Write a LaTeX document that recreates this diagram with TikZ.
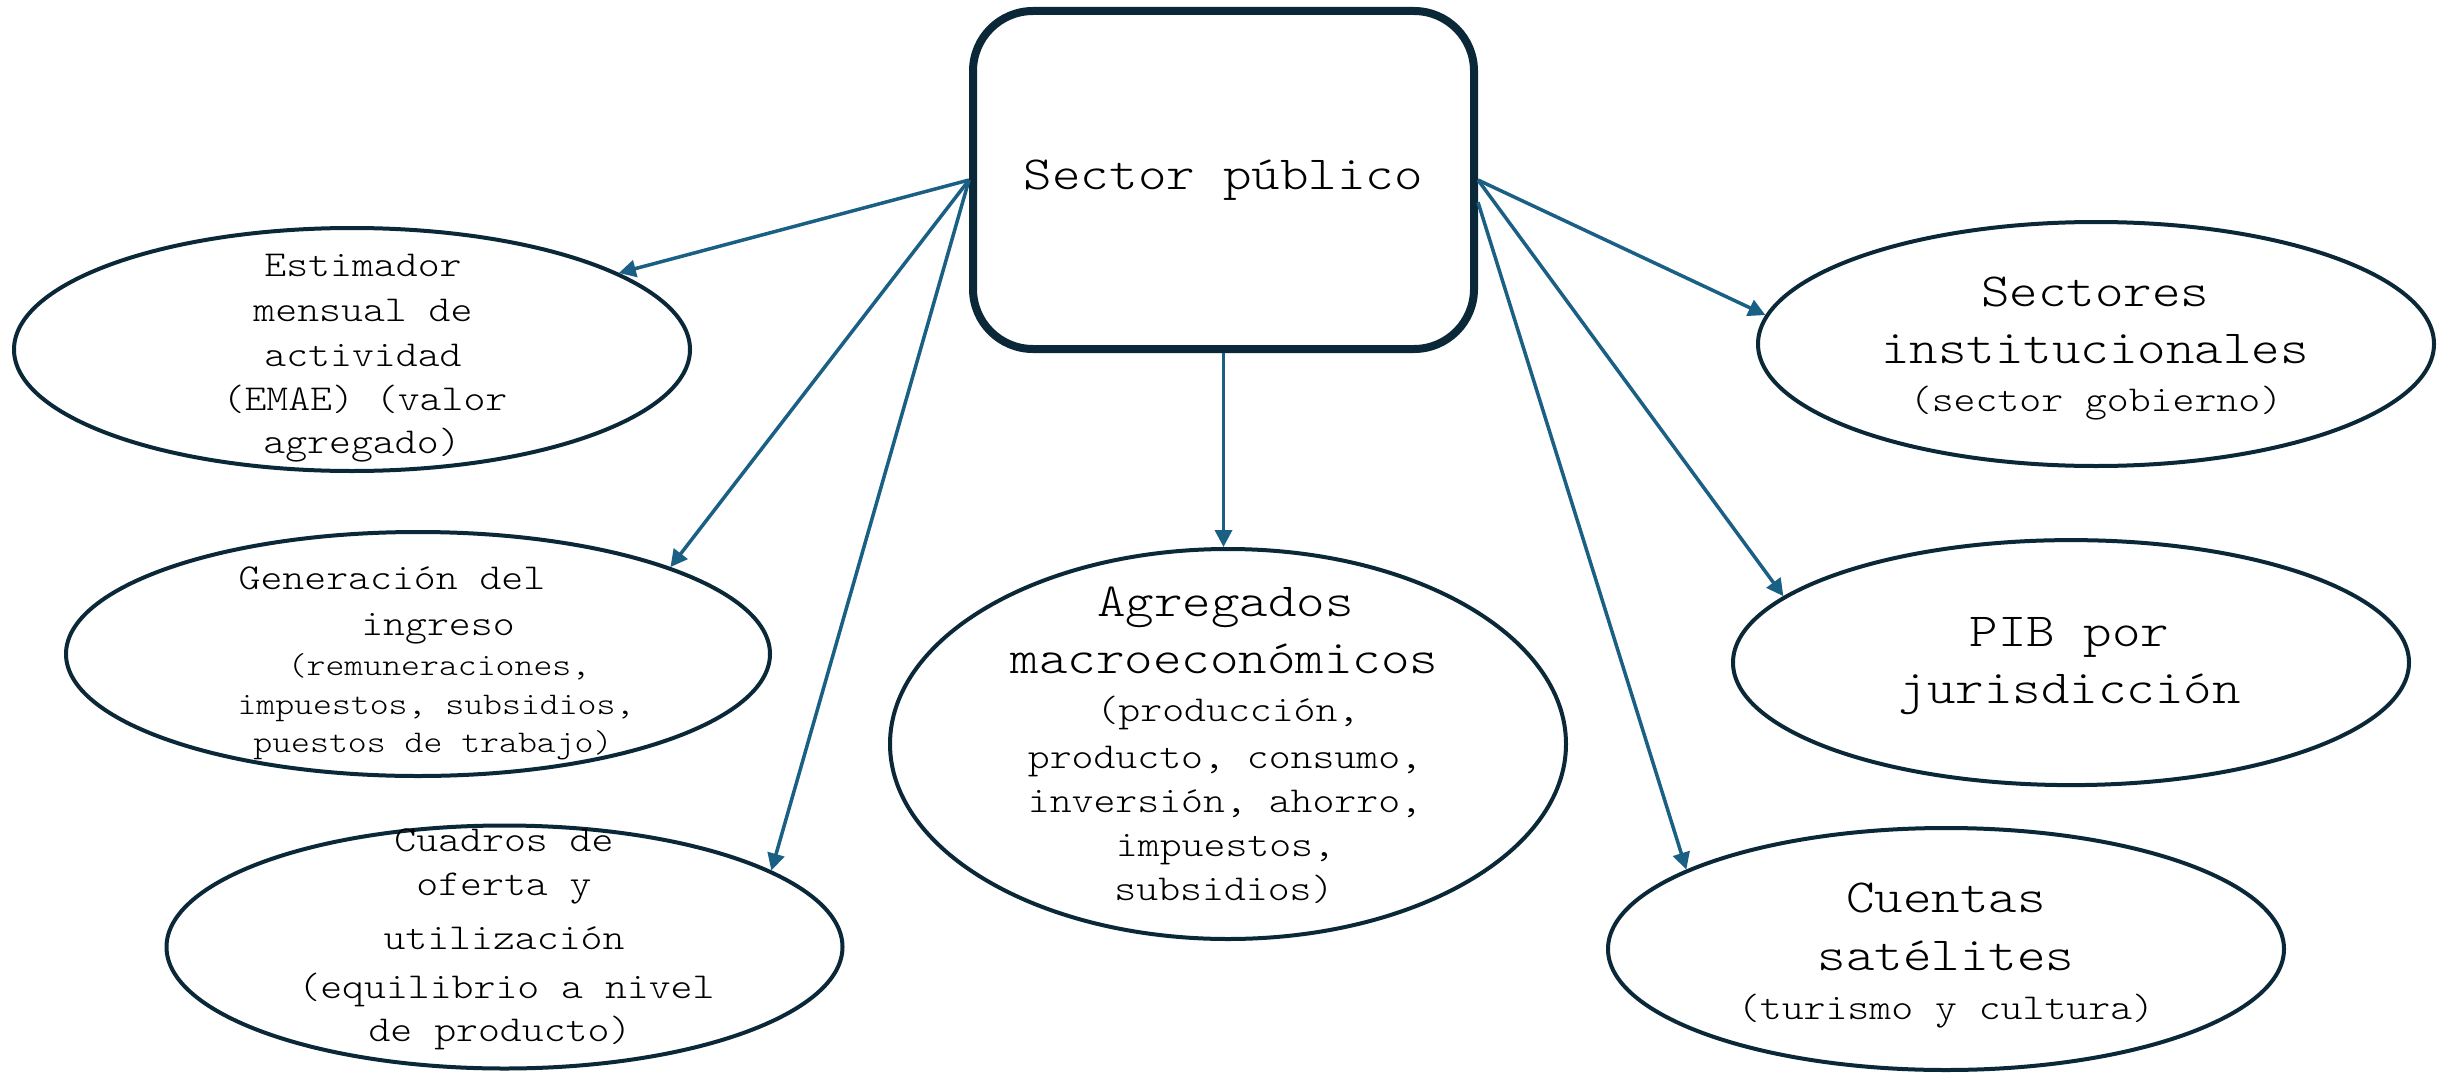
\documentclass[tikz,border=0pt]{standalone}
\usepackage{fontspec}
\newfontfamily\cour{lmmonolt10-regular.otf}[FakeStretch=1.143]
\usetikzlibrary{shapes.geometric,arrows.meta}
\definecolor{navy}{HTML}{0B2838}
\definecolor{arrblue}{HTML}{1A5F84}
\begin{document}
\begin{tikzpicture}[x=1pt,y=-1pt,
  ell/.style={ellipse, draw=navy, line width=4pt, fill=white, inner sep=0pt, minimum width=676pt, minimum height=243pt},
  arr/.style={draw=arrblue, line width=3.5pt, -{Triangle[length=17pt,width=17pt]}},
  big/.style={anchor=base, inner sep=0pt, font=\cour\fontsize{47.5}{57}\selectfont},
  mid/.style={anchor=base, inner sep=0pt, font=\cour\fontsize{36.5}{44}\selectfont},
  sml/.style={anchor=base, inner sep=0pt, font=\cour\fontsize{31.5}{38}\selectfont}]
\useasboundingbox (0,0) rectangle (2447,1073);
\fill[white] (0,0) rectangle (2447,1073);
% central box
\node[draw=navy, line width=8pt, rounded corners=60pt, minimum width=501pt, minimum height=338pt,
      inner sep=0pt, fill=white, font=\cour\fontsize{47.5}{57}\selectfont] (box) at (1223.5,180) {Sector público};
% ellipses
\node[ell] (emae) at (352,349.5) {};
\node[ell, minimum width=704pt, minimum height=244pt] (gen) at (418,654) {};
\node[ell] (cuad) at (504.5,947) {};
\node[ell, minimum height=390pt] (agr) at (1228,744) {};
\node[ell, minimum height=244pt] (sect) at (2096,344) {};
\node[ell, minimum height=245pt] (pib) at (2071,662.6) {};
\node[ell, minimum height=242pt] (cuen) at (1946,949) {};
% connectors
\draw[arr] (box.west) -- (emae.16.5);
\draw[arr] (box.west) -- (gen.19.7);
\draw[arr] (box.west) -- (cuad.16.8);
\draw[arr] (box.south) -- (box.south |- agr.north);
\draw[arr] (box.east) -- (sect.175.3);
\draw[arr] (box.east) -- (pib.167.1);
\draw[arr] (box.-5.6) -- (cuen.163.8);
% EMAE text
\node[mid] (e1) at (363,276) {Estimador};
\node[mid] (e2) at (363,321) {mensual de};
\node[mid] (e3) at (363,366) {actividad};
\node[mid] (e4) at (365,410) {(EMAE) (valor};
\node[mid] (e5) at (362,453) {agregado)};
% Generacion text
\node[mid] (g1) at (392,589.5) {Generación del};
\node[mid] (g2) at (438,635) {ingreso};
\node[sml] (g3) at (439,675) {(remuneraciones,};
\node[sml] (g4) at (436,714) {impuestos, subsidios,};
\node[sml] (g5) at (433,752) {puestos de trabajo)};
% Cuadros text
\node[mid] (c1) at (504,851) {Cuadros de};
\node[mid] (c2) at (504,895.5) {oferta y};
\node[mid] (c3) at (504,949) {utilización};
\node[mid] (c4) at (506.5,998) {(equilibrio a nivel};
\node[mid] (c5) at (500,1041) {de producto)};
% Agregados text
\node[big] (a1) at (1225.6,616) {Agregados};
\node[big] (a2) at (1224.5,673.6) {macroeconómicos};
\node[mid] (a3) at (1228,721) {(producción,};
\node[mid] (a4) at (1225,768.6) {producto, consumo,};
\node[mid] (a5) at (1225,812.5) {inversión, ahorro,};
\node[mid] (a6) at (1225.5,856) {impuestos,};
\node[mid] (a7) at (1224,900) {subsidios)};
% Sectores text
\node[big] (s1) at (2095,306) {Sectores};
\node[big] (s2) at (2095,363) {institucionales};
\node[mid] (s3) at (2096,411) {(sector gobierno)};
% PIB text
\node[big] (p1) at (2069.5,646) {PIB por};
\node[big] (p2) at (2069.5,703) {jurisdicción};
% Cuentas text
\node[big] (k1) at (1946,912) {Cuentas};
\node[big] (k2) at (1946,970) {satélites};
\node[mid] (k3) at (1946,1019) {(turismo y cultura)};
\end{tikzpicture}
\end{document}
